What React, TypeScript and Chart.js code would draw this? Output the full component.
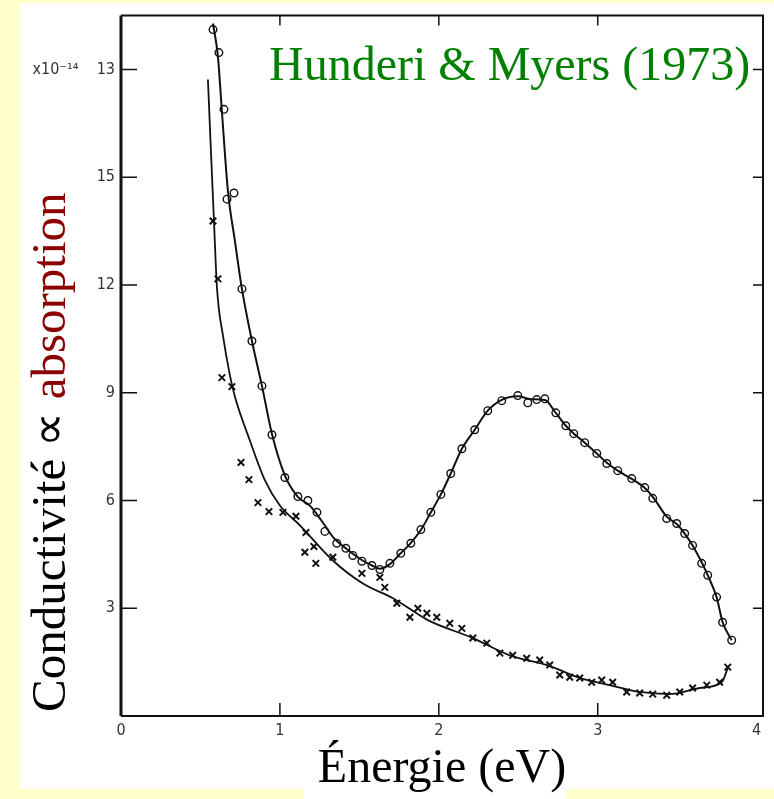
import React, { useEffect, useRef } from "react";
import { Chart, registerables } from "chart.js";

Chart.register(...registerables);

// ---- Data ----
// Open circles (photon energy in eV, conductivity in units of 1e14)
const circleE = [0.579, 0.616, 0.648, 0.667, 0.711, 0.761, 0.824, 0.887, 0.95, 1.031, 1.113, 1.176, 1.233, 1.283, 1.358, 1.415, 1.459, 1.516, 1.579, 1.629, 1.692, 1.761, 1.824, 1.887, 1.95, 2.013, 2.075, 2.145, 2.226, 2.308, 2.396, 2.497, 2.56, 2.616, 2.667, 2.736, 2.799, 2.849, 2.918, 2.994, 3.057, 3.126, 3.214, 3.296, 3.346, 3.434, 3.497, 3.547, 3.597, 3.654, 3.692, 3.748, 3.786, 3.843];
const circleV = [19.11, 18.47, 16.89, 14.39, 14.56, 11.89, 10.44, 9.19, 7.83, 6.64, 6.11, 6.0, 5.67, 5.14, 4.81, 4.67, 4.47, 4.31, 4.19, 4.08, 4.25, 4.53, 4.81, 5.19, 5.67, 6.17, 6.75, 7.44, 7.97, 8.5, 8.78, 8.92, 8.72, 8.81, 8.83, 8.44, 8.08, 7.86, 7.61, 7.31, 7.03, 6.83, 6.61, 6.36, 6.06, 5.5, 5.36, 5.08, 4.75, 4.25, 3.92, 3.31, 2.61, 2.11];

// Crosses
const crossE = [0.579, 0.61, 0.635, 0.698, 0.755, 0.805, 0.862, 0.931, 1.019, 1.101, 1.164, 1.214, 1.157, 1.226, 1.333, 1.516, 1.629, 1.66, 1.736, 1.818, 1.868, 1.925, 1.987, 2.069, 2.145, 2.214, 2.302, 2.384, 2.465, 2.553, 2.635, 2.698, 2.761, 2.824, 2.887, 2.962, 3.025, 3.094, 3.182, 3.264, 3.346, 3.434, 3.516, 3.597, 3.686, 3.767, 3.818];
const crossV = [13.78, 12.17, 9.42, 9.17, 7.06, 6.58, 5.94, 5.69, 5.67, 5.56, 5.11, 4.72, 4.56, 4.25, 4.42, 3.97, 3.86, 3.58, 3.14, 2.75, 3.0, 2.86, 2.75, 2.58, 2.44, 2.17, 2.03, 1.75, 1.69, 1.61, 1.56, 1.42, 1.14, 1.08, 1.06, 0.94, 1.0, 0.94, 0.67, 0.64, 0.61, 0.58, 0.67, 0.78, 0.86, 0.94, 1.36];

// Hand-drawn smooth curves through each set
const circleCurveE = [0.579, 0.61, 0.635, 0.673, 0.717, 0.761, 0.824, 0.887, 0.95, 1.031, 1.113, 1.19, 1.26, 1.34, 1.42, 1.52, 1.58, 1.63, 1.69, 1.76, 1.82, 1.89, 1.95, 2.013, 2.075, 2.145, 2.226, 2.308, 2.396, 2.497, 2.58, 2.667, 2.736, 2.799, 2.85, 2.918, 2.994, 3.057, 3.126, 3.214, 3.296, 3.35, 3.434, 3.5, 3.547, 3.597, 3.654, 3.692, 3.748, 3.786, 3.843];
const circleCurveV = [19.28, 18.36, 16.83, 14.61, 13.22, 11.89, 10.44, 9.19, 7.85, 6.7, 6.1, 5.85, 5.45, 4.95, 4.65, 4.33, 4.19, 4.1, 4.22, 4.53, 4.8, 5.2, 5.67, 6.17, 6.75, 7.44, 7.97, 8.5, 8.8, 8.9, 8.82, 8.8, 8.44, 8.08, 7.86, 7.61, 7.31, 7.05, 6.83, 6.6, 6.35, 6.08, 5.55, 5.33, 5.08, 4.75, 4.28, 3.92, 3.31, 2.61, 2.11];

const crossCurveE = [0.547, 0.566, 0.585, 0.604, 0.642, 0.686, 0.717, 0.811, 0.906, 1.0, 1.126, 1.333, 1.522, 1.711, 1.931, 2.214, 2.447, 2.698, 2.887, 3.075, 3.264, 3.453, 3.642, 3.78, 3.818];
const crossCurveV = [17.72, 15.72, 13.78, 11.92, 10.58, 9.47, 8.89, 7.67, 6.56, 5.86, 5.31, 4.33, 3.69, 3.28, 2.67, 2.17, 1.69, 1.39, 1.06, 0.86, 0.67, 0.61, 0.78, 0.94, 1.33];

const xTicks = [0, 1, 2, 3, 4];
const xTickLabels = ["0", "1", "2", "3", "4"];
const yTicks = [3, 6, 9, 12, 15, 18];
const yTickLabels = ["3", "6", "9", "12", "15", "x10⁻¹⁴    13"];

const xTitle = "Énergie (eV)";
const yTitleMain = "Conductivité ∝ ";
const yTitleAccent = "absorption";
const noteText = "Hunderi & Myers (1973)";

const toPts = (xs: number[], ys: number[]) => xs.map((x, i) => ({ x, y: ys[i] }));

const INK = "#111111";
const TICK_FONT = { family: '"DejaVu Sans Condensed", "DejaVu Sans", sans-serif', size: 16 };
const SERIF = '"Liberation Serif", "Times New Roman", serif';

const paperPlugin = {
  id: "paper",
  beforeDraw(chart: any) {
    const ctx = chart.ctx;
    ctx.save();
    ctx.fillStyle = "#FFFFCC";
    ctx.fillRect(0, 0, chart.width, chart.height);
    ctx.fillStyle = "#FFFFFF";
    ctx.fillRect(20, 3, chart.width - 20, 786);
    ctx.fillRect(304, 789, 262, chart.height - 789);
    ctx.restore();
  },
};

const framePlugin = {
  id: "frame",
  afterDatasetsDraw(chart: any) {
    const { ctx, chartArea: a, scales } = chart;
    const xs = scales.x;
    const ys = scales.y;
    ctx.save();
    ctx.strokeStyle = INK;
    ctx.lineWidth = 2;
    ctx.beginPath();
    ctx.moveTo(a.left, a.top);
    ctx.lineTo(a.right, a.top);
    ctx.lineTo(a.right, a.bottom);
    ctx.lineTo(a.left, a.bottom);
    ctx.stroke();
    ctx.lineWidth = 3;
    ctx.beginPath();
    ctx.moveTo(a.left, a.top);
    ctx.lineTo(a.left, a.bottom);
    ctx.stroke();
    ctx.lineWidth = 1.5;
    ctx.beginPath();
    yTicks.forEach((v) => {
      const py = ys.getPixelForValue(v);
      ctx.moveTo(a.left, py);
      ctx.lineTo(a.left + 16, py);
      ctx.moveTo(a.right, py);
      ctx.lineTo(a.right - 10, py);
    });
    xTicks.slice(1, 4).forEach((v) => {
      const px = xs.getPixelForValue(v);
      ctx.moveTo(px, a.bottom);
      ctx.lineTo(px, a.bottom - 13);
      ctx.moveTo(px, a.top);
      ctx.lineTo(px, a.top + 10);
    });
    ctx.stroke();
    ctx.restore();
  },
};

export default function App() {
  const canvasRef = useRef<HTMLCanvasElement | null>(null);

  useEffect(() => {
    if (!canvasRef.current) return;
    const chart = new Chart(canvasRef.current, {
      type: "scatter",
      data: {
        datasets: [
          {
            label: "circle curve",
            data: toPts(circleCurveE, circleCurveV),
            showLine: true,
            pointRadius: 0,
            borderColor: INK,
            borderWidth: 2,
            tension: 0.4,
            cubicInterpolationMode: "monotone",
          },
          {
            label: "cross curve",
            data: toPts(crossCurveE, crossCurveV),
            showLine: true,
            pointRadius: 0,
            borderColor: INK,
            borderWidth: 1.8,
            tension: 0.4,
            cubicInterpolationMode: "monotone",
          },
          {
            label: "circles",
            data: toPts(circleE, circleV),
            showLine: false,
            pointStyle: "circle",
            pointRadius: 3.8,
            pointBorderWidth: 1.4,
            pointBackgroundColor: "#FFFFFF",
            pointBorderColor: INK,
          },
          {
            label: "crosses",
            data: toPts(crossE, crossV),
            showLine: false,
            pointStyle: "crossRot",
            pointRadius: 4.6,
            pointBorderWidth: 2,
            pointBorderColor: INK,
            pointBackgroundColor: INK,
          },
        ],
      } as any,
      options: {
        animation: false,
        responsive: false,
        maintainAspectRatio: false,
        layout: { padding: { top: 14, right: 11, left: 0, bottom: 0 } },
        plugins: {
          legend: { display: false },
          tooltip: { enabled: false },
        },
        scales: {
          x: {
            type: "linear",
            min: 0,
            max: 4.04,
            afterBuildTicks: (s: any) => {
              s.ticks = xTicks.map((v) => ({ value: v }));
            },
            afterFit: (s: any) => {
              s.height = 83;
            },
            grid: { display: false, drawTicks: false },
            border: { display: false },
            ticks: {
              padding: 5,
              color: "#333",
              font: TICK_FONT,
              callback: (v: any) => xTickLabels[xTicks.indexOf(Number(v))] ?? "",
            },
            title: {
              display: true,
              text: xTitle,
              color: "#000",
              font: { family: SERIF, size: 48 },
              padding: { top: 0, bottom: 1 },
            },
          },
          y: {
            type: "linear",
            min: 0,
            max: 19.5,
            afterBuildTicks: (s: any) => {
              s.ticks = yTicks.map((v) => ({ value: v }));
            },
            afterFit: (s: any) => {
              s.width = 121;
            },
            grid: { display: false, drawTicks: false },
            border: { display: false },
            ticks: {
              padding: 6,
              color: "#333",
              font: TICK_FONT,
              callback: (v: any) => yTickLabels[yTicks.indexOf(Number(v))] ?? "",
            },
          },
        },
      } as any,
      plugins: [paperPlugin, framePlugin],
    });
    return () => chart.destroy();
  }, []);

  return (
    <div style={{ position: "absolute", left: 0, top: 0, width: 774, height: 799, overflow: "hidden" }}>
      <canvas ref={canvasRef} width={774} height={799} style={{ display: "block", width: 774, height: 799 }} />
      <div
        style={{
          position: "absolute",
          left: 25,
          top: 712,
          transformOrigin: "0 0",
          transform: "rotate(-90deg)",
          whiteSpace: "nowrap",
          fontFamily: SERIF,
          fontSize: 49,
          lineHeight: "48px",
          color: "#000",
        }}
      >
        <span>{yTitleMain}</span>
        <span style={{ color: "#8B0000" }}>{yTitleAccent}</span>
      </div>
      <div
        style={{
          position: "absolute",
          left: 269,
          top: 40,
          whiteSpace: "nowrap",
          fontFamily: SERIF,
          fontSize: 48,
          lineHeight: "48px",
          color: "#008000",
        }}
      >
        {noteText}
      </div>
    </div>
  );
}
